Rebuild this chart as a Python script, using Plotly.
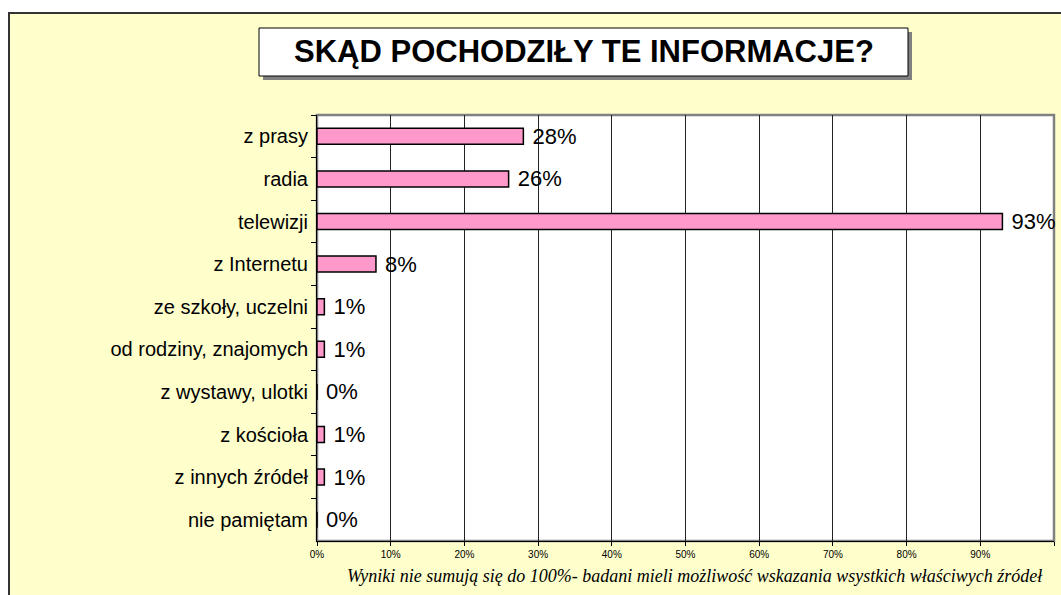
import plotly.graph_objects as go

categories = ["z prasy", "radia", "telewizji", "z Internetu", "ze szkoły, uczelni",
              "od rodziny, znajomych", "z wystawy, ulotki", "z kościoła",
              "z innych źródeł", "nie pamiętam"]
values = [0.28, 0.26, 0.93, 0.08, 0.01, 0.01, 0.00, 0.01, 0.01, 0.00]
labels = ["28%", "26%", "93%", "8%", "1%", "1%", "0%", "1%", "1%", "0%"]
title_text = "SKĄD POCHODZIŁY TE INFORMACJE?"
footnote = "Wyniki nie sumują się do 100%- badani mieli możliwość wskazania wsystkich właściwych źródeł"

W, H = 1061, 595
# plot area in screen pixels
L, R, T, B = 317, 1054, 115, 541
PW, PH = R - L, B - T


def px(x):
    return (x - L) / PW


def py(y):
    return (B - y) / PH


fig = go.Figure()
fig.add_trace(go.Bar(
    y=categories, x=values, orientation="h",
    marker=dict(color="#FF99CC", line=dict(color="black", width=1.5)),
    text=labels, texttemplate=" %{text}", textposition="outside",
    cliponaxis=False, constraintext="none",
    textfont=dict(family="Liberation Sans, Arial", size=22, color="black"),
    hoverinfo="skip",
))

shapes = [
    # outer yellow frame
    dict(type="rect", xref="paper", yref="paper", x0=px(9), x1=px(1085), y0=py(13), y1=py(620),
         fillcolor="#FFFFCC", line=dict(color="#333333", width=2), layer="below"),
    # plot area
    dict(type="rect", xref="paper", yref="paper", x0=0, x1=1, y0=0, y1=1,
         fillcolor="white", line=dict(color="#808080", width=2.5), layer="below"),
    # title shadow
    dict(type="rect", xref="paper", yref="paper", x0=px(263), x1=px(912), y0=py(32), y1=py(80),
         fillcolor="#808080", line=dict(width=0), layer="above"),
    # title box
    dict(type="rect", xref="paper", yref="paper", x0=px(259), x1=px(908), y0=py(28), y1=py(76),
         fillcolor="white", line=dict(color="black", width=1), layer="above"),
]

annotations = [
    dict(text="<b>" + title_text + "</b>", xref="paper", yref="paper", x=px(583.5), y=py(52),
         xanchor="center", yanchor="middle", showarrow=False,
         font=dict(family="Liberation Sans, Arial", size=31, color="black")),
    dict(text="<i>" + footnote + "</i>", xref="paper", yref="paper", x=px(695), y=py(576),
         xanchor="center", yanchor="middle", showarrow=False,
         font=dict(family="Liberation Serif, Times New Roman", size=18, color="black")),
]

fig.update_layout(
    width=W, height=H,
    margin=dict(l=L, r=W - R, t=T, b=H - B, pad=0),
    paper_bgcolor="white", plot_bgcolor="rgba(0,0,0,0)",
    showlegend=False, bargap=0.625,
    shapes=shapes, annotations=annotations,
    xaxis=dict(range=[0, 1], dtick=0.1, tick0=0, tickformat=".0%",
               showgrid=True, gridcolor="#222222", gridwidth=1,
               showline=True, linecolor="black", linewidth=1,
               ticks="outside", ticklen=4, tickcolor="black",
               tickfont=dict(family="Liberation Sans, Arial", size=10, color="black"),
               zeroline=False, fixedrange=True),
    yaxis=dict(categoryorder="array", categoryarray=categories, autorange="reversed",
               tickson="boundaries", ticks="outside", ticklen=5, tickcolor="black",
               showgrid=False, showline=True, linecolor="black", linewidth=1,
               tickfont=dict(family="Liberation Sans, Arial", size=20, color="black"),
               ticklabelstandoff=4, fixedrange=True),
)

fig.write_html(
    "out.html",
    config={"displayModeBar": False},
    post_script=("document.body.style.margin='0';document.body.style.overflow='hidden';"
                 "document.documentElement.style.overflow='hidden';"),
)
